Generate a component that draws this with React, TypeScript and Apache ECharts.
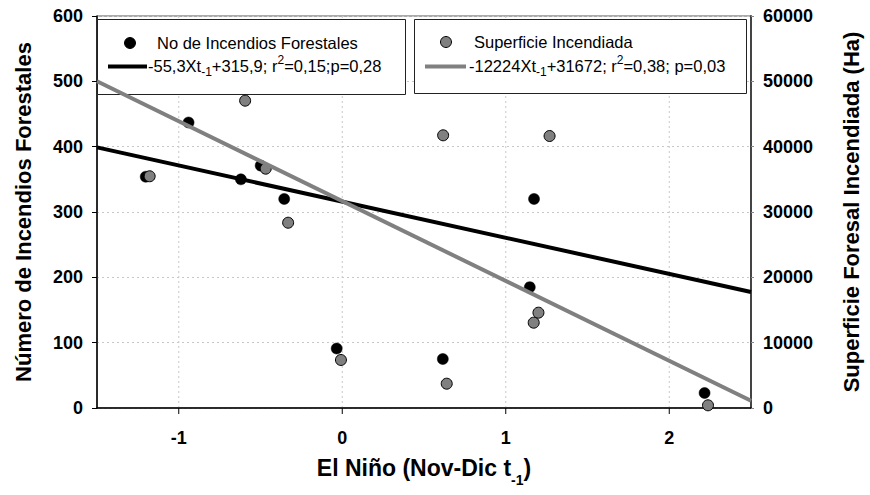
import React, { useEffect, useRef } from "react";
import * as echarts from "echarts";

const firesX = [-1.202, -0.94, -0.62, -0.499, -0.355, -0.034, 0.615, 1.147, 1.173, 2.216];
const firesY = [354, 437, 350, 371, 320, 91, 75, 185, 320, 23];
const areaX = [-1.178, -0.594, -0.468, -0.331, -0.008, 0.617, 0.639, 1.171, 1.2, 1.268, 2.237];
const areaY = [35470, 47040, 36630, 28360, 7350, 41740, 3720, 13060, 14590, 41630, 410];
const xRange = [-1.5, 2.5];
const firesFit = { slope: -55.3, intercept: 315.9 };
const areaFit = { slope: -12224, intercept: 31672 };
const xTicks = [-1, 0, 1, 2];

const FONT = "Liberation Sans, Arial, sans-serif";

export default function App() {
  const ref = useRef<HTMLDivElement>(null);
  useEffect(() => {
    const chart = echarts.init(ref.current!, null, { renderer: "svg" });
    const firesData = firesX.map((x, i) => [x, firesY[i]]);
    const areaData = areaX.map((x, i) => [x, areaY[i]]);
    const firesLine = xRange.map((x) => [x, firesFit.slope * x + firesFit.intercept]);
    const areaLine = xRange.map((x) => [x, areaFit.slope * x + areaFit.intercept]);

    const legendRich = {
      n: { fontSize: 16.5, fontFamily: FONT, color: "#000", lineHeight: 24, verticalAlign: "middle" },
      sub: { fontSize: 12, fontFamily: FONT, color: "#000", lineHeight: 10, verticalAlign: "bottom" },
      sup: { fontSize: 12, fontFamily: FONT, color: "#000", lineHeight: 10, verticalAlign: "top" },
    };

    chart.setOption({
      animation: false,
      backgroundColor: "#fff",
      grid: {
        left: 97,
        right: 115,
        top: 16,
        bottom: 87,
        show: true,
        borderColor: "#555",
        borderWidth: 1,
        backgroundColor: "transparent",
      },
      xAxis: {
        type: "value",
        min: xRange[0],
        max: xRange[1],
        interval: 0.5,
        name: "{n|El Niño (Nov-Dic t}{sub|-1}{n|)}",
        nameLocation: "middle",
        nameGap: 41,
        nameTextStyle: {
          fontSize: 23,
          fontWeight: "bold",
          fontFamily: FONT,
          color: "#000",
          rich: {
            n: { fontSize: 23, fontWeight: "bold", fontFamily: FONT, color: "#000", lineHeight: 38, verticalAlign: "middle" },
            sub: { fontSize: 14, fontWeight: "bold", fontFamily: FONT, color: "#000", lineHeight: 8, verticalAlign: "bottom" },
          },
        },
        axisLine: { show: true, onZero: false, lineStyle: { color: "#000", width: 1.5 } },
        axisTick: { show: false },
        axisLabel: {
          show: true,
          fontSize: 18,
          fontWeight: "bold",
          fontFamily: FONT,
          color: "#000",
          margin: 21,
          formatter: (v: number) => (Number.isInteger(v) ? String(v) : ""),
        },
        splitLine: { show: false },
      },
      yAxis: [
        {
          type: "value",
          min: 0,
          max: 600,
          interval: 100,
          position: "left",
          name: "Número de Incendios Forestales",
          nameLocation: "middle",
          nameGap: 63,
          nameTextStyle: { fontSize: 22, fontWeight: "bold", fontFamily: FONT, color: "#000" },
          axisLine: { show: true, onZero: false, lineStyle: { color: "#000", width: 1.5 } },
          axisTick: { show: true, length: 5, lineStyle: { color: "#000" } },
          axisLabel: { fontSize: 18, fontWeight: "bold", fontFamily: FONT, color: "#000", margin: 14 },
          splitLine: { show: true, lineStyle: { color: "#c8c8c8", type: [2, 3], width: 1 } },
        },
        {
          type: "value",
          min: 0,
          max: 60000,
          interval: 10000,
          position: "right",
          name: "Superficie Foresal Incendiada (Ha)",
          nameLocation: "middle",
          nameGap: 89,
          nameRotate: 90,
          nameTextStyle: { fontSize: 22, fontWeight: "bold", fontFamily: FONT, color: "#000" },
          axisLine: { show: true, onZero: false, lineStyle: { color: "#444", width: 2 } },
          axisTick: { show: true, length: 3, lineStyle: { color: "#888" } },
          axisLabel: {
            fontSize: 18,
            fontWeight: "bold",
            fontFamily: FONT,
            color: "#000",
            margin: 12,
            formatter: (v: number) => String(v),
          },
          splitLine: { show: false },
        },
      ],
      graphic: [
        {
          type: "rect",
          z: 1,
          shape: { x: 97.5, y: 19.5, width: 308, height: 75 },
          style: { fill: "#fff", stroke: "#222", lineWidth: 1 },
        },
        {
          type: "rect",
          z: 1,
          shape: { x: 414.5, y: 19.5, width: 332, height: 74 },
          style: { fill: "#fff", stroke: "#222", lineWidth: 1 },
        },
        { type: "circle", z: 3, shape: { cx: 130, cy: 43, r: 5.5 }, style: { fill: "#000", stroke: "#000" } },
        { type: "line", z: 3, shape: { x1: 108, y1: 66.5, x2: 147, y2: 66.5 }, style: { stroke: "#000", lineWidth: 4 } },
        {
          type: "text", z: 3, x: 157, y: 43,
          style: { text: "No de Incendios Forestales", font: `16.5px ${FONT}`, fill: "#000", verticalAlign: "middle" },
        },
        {
          type: "text", z: 3, x: 148, y: 66,
          style: {
            text: "{n|-55,3Xt}{sub|-1}{n|+315,9; r}{sup|2}{n|=0,15;p=0,28}",
            fill: "#000",
            verticalAlign: "middle",
            rich: legendRich,
          },
        },
        { type: "circle", z: 3, shape: { cx: 446, cy: 42, r: 5.5 }, style: { fill: "#808080", stroke: "#000", lineWidth: 1 } },
        { type: "line", z: 3, shape: { x1: 425, y1: 66.5, x2: 466, y2: 66.5 }, style: { stroke: "#808080", lineWidth: 4 } },
        {
          type: "text", z: 3, x: 474, y: 42,
          style: { text: "Superficie Incendiada", font: `16.5px ${FONT}`, fill: "#000", verticalAlign: "middle" },
        },
        {
          type: "text", z: 3, x: 469, y: 66,
          style: {
            text: "{n|-12224Xt}{sub|-1}{n|+31672; r}{sup|2}{n|=0,38; p=0,03}",
            fill: "#000",
            verticalAlign: "middle",
            rich: legendRich,
          },
        },
      ],
      series: [
        {
          type: "custom",
          name: "grid",
          xAxisIndex: 0,
          yAxisIndex: 0,
          z: 0,
          silent: true,
          data: xTicks.map((v) => [v]),
          renderItem: (params: any, api: any) => {
            const v = api.value(0);
            const top = api.coord([v, 600]);
            const bot = api.coord([v, 0]);
            return {
              type: "group",
              children: [
                {
                  type: "line",
                  shape: { x1: top[0], y1: top[1], x2: bot[0], y2: bot[1] },
                  style: { stroke: "#c8c8c8", lineWidth: 1, lineDash: [2, 3] },
                },
                {
                  type: "line",
                  shape: { x1: bot[0], y1: bot[1], x2: bot[0], y2: bot[1] + 6 },
                  style: { stroke: "#000", lineWidth: 1 },
                },
              ],
            };
          },
        },
        {
          type: "scatter",
          name: "No de Incendios Forestales",
          yAxisIndex: 0,
          data: firesData,
          symbol: "circle",
          symbolSize: 11,
          itemStyle: { color: "#000", borderColor: "#000", borderWidth: 0.5, opacity: 1 },
          z: 2,
        },
        {
          type: "scatter",
          name: "Superficie Incendiada",
          yAxisIndex: 1,
          data: areaData,
          symbol: "circle",
          symbolSize: 11,
          itemStyle: { color: "#808080", borderColor: "#000", borderWidth: 1, opacity: 1 },
          z: 2,
        },
        {
          type: "line",
          name: "fit fires",
          yAxisIndex: 0,
          data: firesLine,
          showSymbol: false,
          symbol: "none",
          lineStyle: { color: "#000", width: 4 },
          z: 4,
        },
        {
          type: "line",
          name: "fit area",
          yAxisIndex: 1,
          data: areaLine,
          showSymbol: false,
          symbol: "none",
          lineStyle: { color: "#808080", width: 4 },
          z: 5,
        },
      ],
    });
    return () => chart.dispose();
  }, []);
  return <div ref={ref} style={{ position: "fixed", left: 0, top: 0, width: 870, height: 495 }} />;
}
